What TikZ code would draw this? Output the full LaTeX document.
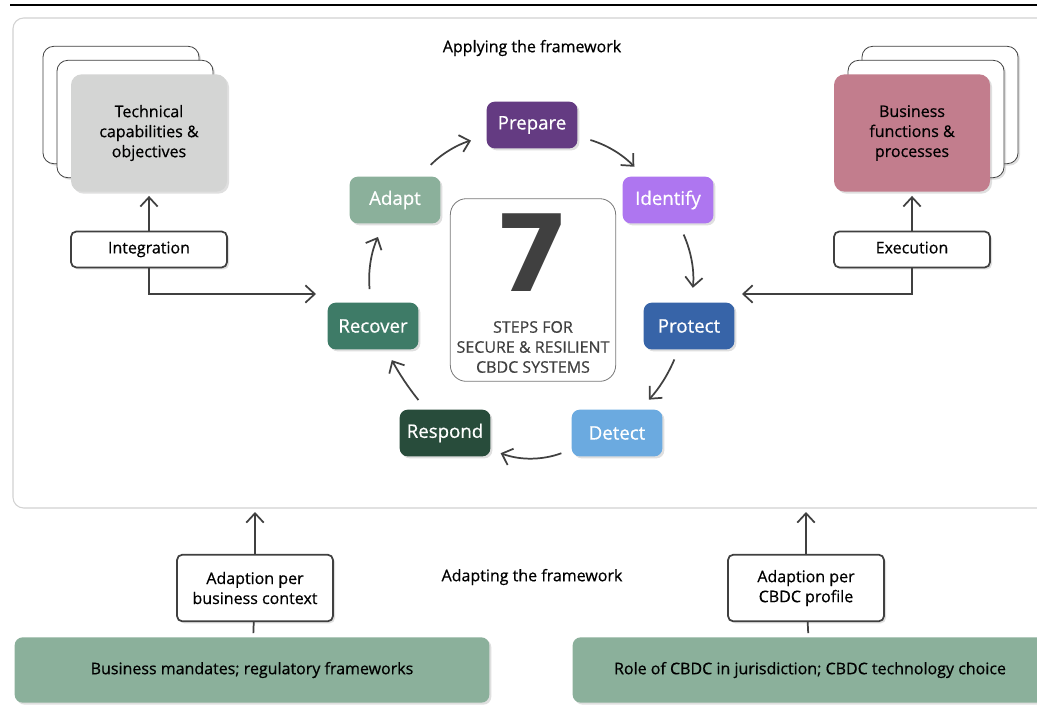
\documentclass[tikz,border=0pt]{standalone}
\usepackage{fontspec}
\setmainfont{Open Sans}[FakeBold=0.6]
\newfontfamily\digitfont{DejaVu Sans}
\usepackage{tikz}
\usetikzlibrary{arrows.meta}
\usetikzlibrary{shadows}
\usetikzlibrary{positioning}
\definecolor{inkGray}{HTML}{404040}
\definecolor{frameGray}{HTML}{D2D2D2}
\definecolor{techGray}{HTML}{D4D5D4}
\definecolor{busRose}{HTML}{C27D8D}
\definecolor{prepPurple}{HTML}{643B82}
\definecolor{identLilac}{HTML}{AE76F0}
\definecolor{protBlue}{HTML}{3764A8}
\definecolor{detSky}{HTML}{6BAAE0}
\definecolor{respGreen}{HTML}{284C3B}
\definecolor{recGreen}{HTML}{3E7B67}
\definecolor{adaptSage}{HTML}{8BB09B}

\begin{document}
\begin{tikzpicture}[x=0.75pt,y=-0.75pt]
      \tikzset{
         softshadow/.style = {
            drop shadow={opacity=0.25, shadow xshift=1.5pt, shadow yshift=-1.5pt}
         },
         stepnode/.style = {
            rectangle, rounded corners=6pt, softshadow,
            minimum width=68pt, minimum height=35pt,
            text=white, font=\fontsize{14}{16}\selectfont
         },
         cardback/.style = {
            rectangle, rounded corners=8pt, draw=inkGray, line width=0.6pt,
            fill=white, softshadow,
            minimum width=117pt, minimum height=88pt
         },
         cardfront/.style = {
            rectangle, rounded corners=8pt, softshadow,
            minimum width=117pt, minimum height=88pt,
            align=center, font=\fontsize{12}{15}\selectfont
         },
         labelbox/.style = {
            rectangle, rounded corners=4pt, draw=inkGray, line width=1.3pt,
            fill=white, softshadow, minimum width=117pt,
            align=center, font=\fontsize{12}{15}\selectfont
         },
         basebox/.style = {
            rectangle, rounded corners=6pt, fill=adaptSage, softshadow,
            minimum width=356pt, minimum height=49pt,
            font=\fontsize{12}{15}\selectfont
         },
         flow/.style = {
            -{Straight Barb[length=7pt,width=13pt]}, draw=inkGray, line width=1.3pt
         }
      }
      \useasboundingbox (0,0) rectangle (1037,711);
      \clip (0,0) rectangle (1037,711);
      \fill[white] (0,0) rectangle (1037,711);
      \draw[line width=1.5pt] (10,5) -- (1037,5);
      \draw[frameGray, line width=0.8pt, rounded corners=8pt] (13,18) rectangle (1070,508);
      \node[font=\fontsize{12}{15}\selectfont] (applying) at (532,48) {Applying the framework};

      \node[cardback] (techBack) at (121,105) {};
      \node[cardback] (techMid) at (135,119) {};
      \node[cardfront, fill=techGray] (techCard) at (149,133) {Technical\\capabilities \&\\objectives};
      \node[labelbox, minimum height=27pt, text height=1.5ex, text depth=0.4ex, below=29pt of techCard] (integration) {Integration};

      \node[cardback] (busBack) at (940,105) {};
      \node[cardback] (busMid) at (926,119) {};
      \node[cardfront, fill=busRose] (busCard) at (912,133) {Business\\functions \&\\processes};
      \node[labelbox, minimum height=27pt, text height=1.5ex, text depth=0.4ex, below=29pt of busCard] (execution) {Execution};

      \node[rectangle, rounded corners=12pt, draw=inkGray!70, line width=0.6pt,
            minimum width=124pt, minimum height=137pt] (sevenBox) at (533,290) {};
      \node[text=inkGray, font=\fontsize{80}{80}\digitfont\bfseries] (seven) at (533,253) {7};
      \node[text=inkGray, align=center, font=\fontsize{12}{15}\selectfont] (steps) at (533,347)
        {STEPS FOR\\SECURE \& RESILIENT\\CBDC SYSTEMS};

      \node[stepnode, fill=prepPurple] (prepare) at (532,125) {Prepare};
      \node[stepnode, fill=identLilac] (identify) at (668,200) {Identify};
      \node[stepnode, fill=protBlue] (protect) at (689,326) {Protect};
      \node[stepnode, fill=detSky] (detect) at (617,433) {Detect};
      \node[stepnode, fill=respGreen] (respond) at (445,433) {Respond};
      \node[stepnode, fill=recGreen] (recover) at (373,326) {Recover};
      \node[stepnode, fill=adaptSage] (adapt) at (395,200) {Adapt};

      \draw [flow, shorten <=12pt, shorten >=12pt] (adapt) to[bend left=15] (prepare);
      \draw [flow, shorten <=10pt, shorten >=10pt] (prepare) to[bend left=15] (identify);
      \draw [flow, shorten <=9pt, shorten >=11pt] (identify) to[bend left=15] (protect);
      \draw [flow, shorten <=8pt, shorten >=10pt] (protect) to[bend left=10] (detect);
      \draw [flow, shorten <=8pt, shorten >=8pt] (detect) to[bend left=20] (respond);
      \draw [flow, shorten <=9pt, shorten >=9pt] (respond) to[bend left=5] (recover);
      \draw [flow, shorten <=10pt, shorten >=11pt] (recover) to[bend left=15] (adapt);

      \coordinate (intoLoop) at (316,294);
      \coordinate (outLoop) at (742,294);
      \draw [flow, shorten >=3pt] (integration) -- (techCard);
      \draw [flow, shorten >=3pt] (execution) -- (busCard);
      \draw [flow] (integration.south) |- (intoLoop);
      \draw [flow] (execution.south) |- (outLoop);

      \node[font=\fontsize{12}{15}\selectfont] (adapting) at (532,577) {Adapting the framework};
      \node[basebox] (mandates) at (252,670) {Business mandates; regulatory frameworks};
      \node[basebox] (roleCbdc) at (810,670) {Role of CBDC in jurisdiction; CBDC technology choice};
      \node[labelbox, minimum height=50pt] (adaptBiz) at (255,588) {Adaption per\\business context};
      \node[labelbox, minimum height=50pt] (adaptCbdc) at (806,588) {Adaption per\\CBDC profile};
      \coordinate (frameLeft) at (255,512);
      \coordinate (frameRight) at (806,512);
      \draw [draw=inkGray, line width=1.3pt, shorten >=3pt] (adaptBiz) -- (mandates);
      \draw [draw=inkGray, line width=1.3pt, shorten >=3pt] (adaptCbdc) -- (roleCbdc);
      \draw [flow] (adaptBiz) -- (frameLeft);
      \draw [flow] (adaptCbdc) -- (frameRight);
    \end{tikzpicture}
\end{document}
